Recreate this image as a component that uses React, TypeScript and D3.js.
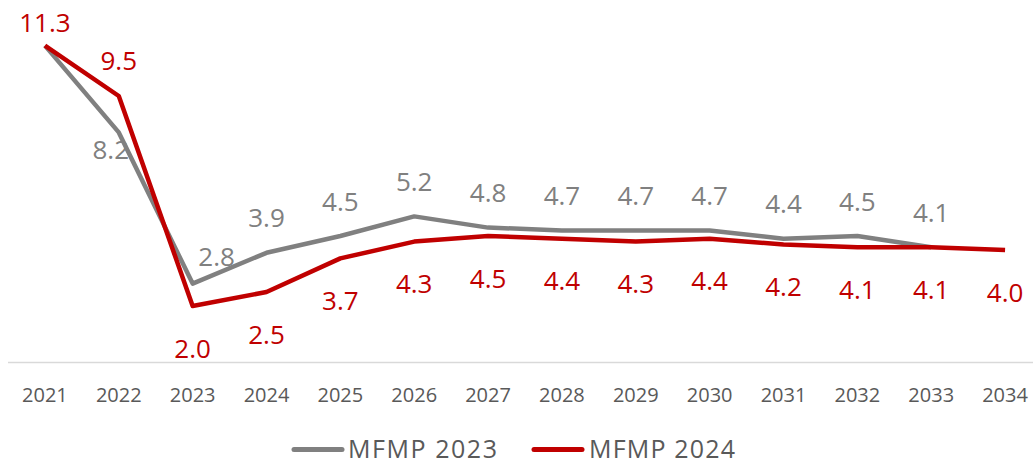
import React from "react";
import * as d3 from "d3";

const years = ["2021","2022","2023","2024","2025","2026","2027","2028","2029","2030","2031","2032","2033","2034"];
const mfmp2023: (number | null)[] = [11.3, 8.2, 2.8, 3.9, 4.5, 5.2, 4.8, 4.7, 4.7, 4.7, 4.4, 4.5, 4.1, null];
const mfmp2024: number[] = [11.3, 9.5, 2.0, 2.5, 3.7, 4.3, 4.5, 4.4, 4.3, 4.4, 4.2, 4.1, 4.1, 4.0];

// label placement (offsets of label centre from point), default and exceptions
const grayLabelOffsets: Record<number, [number, number] | null> = { 0: null, 1: [-8, 17], 2: [24, -27] };
const redLabelOffsets: Record<number, [number, number]> = { 0: [0, -23], 1: [0, -36] };

const W = 1033, H = 466;
const FONT = "'Open Sans', 'Liberation Sans', sans-serif";
const GRAY = "#808080";
const RED = "#C00000";

export default function App() {
  const x = d3.scaleBand<string>().domain(years).range([8, 1042]);
  const y = d3.scaleLinear().domain([0, 12]).range([362, 362 - 12 * 28]);
  const cx = (i: number) => (x(years[i]) as number) + x.bandwidth() / 2;

  const line = d3.line<number | null>()
    .defined((d) => d != null)
    .x((_, i) => cx(i))
    .y((d) => y(d as number));

  const capHalf = 9.5;

  return (
    <svg width={W} height={H} style={{ position: "absolute", left: 0, top: 0 }}>
      <line x1={8} x2={W} y1={y(0) + 0.5} y2={y(0) + 0.5} stroke="#D9D9D9" strokeWidth={1.5} />
      {years.map((yr, i) => (
        <text key={yr} x={cx(i)} y={402} textAnchor="middle" fontFamily={FONT} fontSize={20} fill="#595959">{yr}</text>
      ))}
      <path d={line(mfmp2023) || ""} fill="none" stroke={GRAY} strokeWidth={4.5} strokeLinejoin="round" />
      <path d={line(mfmp2024) || ""} fill="none" stroke={RED} strokeWidth={4.5} strokeLinejoin="round" />
      {mfmp2023.map((v, i) => {
        if (v == null) return null;
        const off = i in grayLabelOffsets ? grayLabelOffsets[i] : [0, -35];
        if (!off) return null;
        return (
          <text key={"g" + i} x={cx(i) + off[0]} y={y(v) + off[1] + capHalf} textAnchor="middle" fontFamily={FONT} fontSize={26} fill={GRAY}>{v.toFixed(1)}</text>
        );
      })}
      {mfmp2024.map((v, i) => {
        const off = redLabelOffsets[i] || [0, 42];
        return (
          <text key={"r" + i} x={cx(i) + off[0]} y={y(v) + off[1] + capHalf} textAnchor="middle" fontFamily={FONT} fontSize={26} fill={RED}>{v.toFixed(1)}</text>
        );
      })}
      <g>
        <line x1={294} x2={342} y1={449.5} y2={449.5} stroke={GRAY} strokeWidth={5} strokeLinecap="round" />
        <text x={348} y={458} fontFamily={FONT} fontSize={25} textLength={149} lengthAdjust="spacing" fill="#595959">MFMP 2023</text>
        <line x1={534} x2={582} y1={449.5} y2={449.5} stroke={RED} strokeWidth={5} strokeLinecap="round" />
        <text x={589} y={458} fontFamily={FONT} fontSize={25} textLength={146} lengthAdjust="spacing" fill="#595959">MFMP 2024</text>
      </g>
    </svg>
  );
}
